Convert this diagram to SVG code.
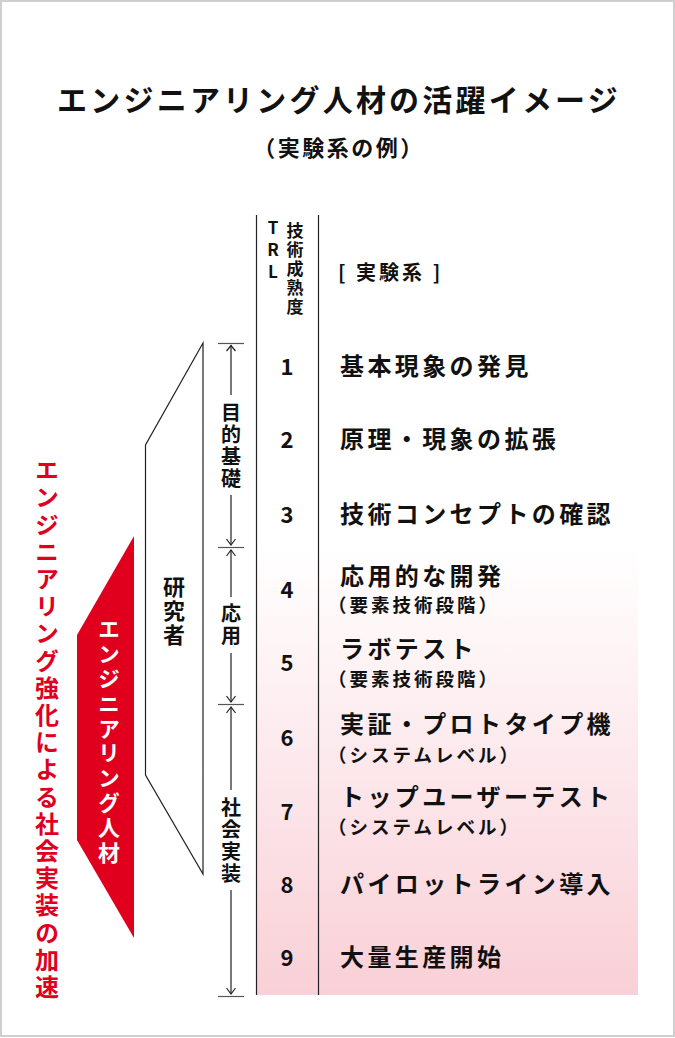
<svg xmlns="http://www.w3.org/2000/svg" width="675" height="1038" viewBox="0 0 675 1038">
<defs>
<linearGradient id="pink" x1="0" y1="0" x2="0" y2="1">
<stop offset="0" stop-color="#ffffff"/>
<stop offset="1" stop-color="#f9d0d7"/>
</linearGradient>
<style>
text{font-family:"Noto Sans CJK JP","Noto Sans",sans-serif;font-weight:700;fill:#111}
.v{writing-mode:vertical-rl;text-anchor:middle}
.num{font-size:22px;text-anchor:middle}
.main{font-size:24px;letter-spacing:3.4px}
.sub{font-size:18.5px;letter-spacing:3px}
.red{fill:#e0001e}
.ln{stroke:#222;stroke-width:1.2;fill:none}
.tk{stroke:#555;stroke-width:1.2;fill:none}
</style>
</defs>
<rect x="1" y="1" width="673" height="1035" fill="#fff" stroke="#cfcfcf" stroke-width="2"/>
<g id="title">
<text x="339" y="111" text-anchor="middle" style="font-size:30px;letter-spacing:3.2px">エンジニアリング人材の活躍イメージ</text>
<text x="339" y="156" text-anchor="middle" style="font-size:22px;letter-spacing:2.5px">（実験系の例）</text>
</g>
<rect id="gradient-band" x="256" y="548" width="382" height="447" fill="url(#pink)"/>
<g id="table-lines">
<line class="ln" x1="256.5" y1="215" x2="256.5" y2="995"/>
<line class="ln" x1="318.5" y1="215" x2="318.5" y2="995"/>
</g>
<g id="header">
<text class="v" x="273" y="252" style="font-size:17px;letter-spacing:5px;text-orientation:upright">TRL</text>
<text class="v" x="295" y="270" style="font-size:17px;letter-spacing:2px">技術成熟度</text>
<text x="338" y="280" style="font-size:20px;letter-spacing:3px">[ 実験系 ]</text>
</g>
<g id="rows">
<text class="num" x="287" y="375">1</text>
<text class="main" x="340" y="375">基本現象の発見</text>
<text class="num" x="287" y="448">2</text>
<text class="main" x="340" y="448">原理・現象の拡張</text>
<text class="num" x="287" y="523">3</text>
<text class="main" x="340" y="523">技術コンセプトの確認</text>
<text class="num" x="287" y="598">4</text>
<text class="main" x="340" y="585">応用的な開発</text>
<text class="sub" x="328" y="612">（要素技術段階）</text>
<text class="num" x="287" y="671">5</text>
<text class="main" x="340" y="658">ラボテスト</text>
<text class="sub" x="328" y="686">（要素技術段階）</text>
<text class="num" x="287" y="746">6</text>
<text class="main" x="340" y="733">実証・プロトタイプ機</text>
<text class="sub" x="328" y="762">（システムレベル）</text>
<text class="num" x="287" y="820">7</text>
<text class="main" x="340" y="806">トップユーザーテスト</text>
<text class="sub" x="328" y="834">（システムレベル）</text>
<text class="num" x="287" y="893">8</text>
<text class="main" x="340" y="893">パイロットライン導入</text>
<text class="num" x="287" y="966">9</text>
<text class="main" x="340" y="966">大量生産開始</text>
</g>
<g id="stage-dimensions">
<line class="tk" x1="218" y1="343.5" x2="244" y2="343.5"/>
<line class="tk" x1="218" y1="547.5" x2="244" y2="547.5"/>
<line class="tk" x1="218" y1="704.5" x2="244" y2="704.5"/>
<line class="tk" x1="218" y1="996.5" x2="244" y2="996.5"/>
<path class="ln" d="M231 345V395M231 495V545M231 550V597M231 653V702M231 707V790M231 890V994"/>
<path class="ln" d="M226.5 351L231 345.5L235.5 351M226.5 539L231 545L235.5 539M226.5 556L231 550L235.5 556M226.5 696L231 702L235.5 696M226.5 713L231 707L235.5 713M226.5 988L231 994L235.5 988"/>
<text class="v" x="231" y="446" style="font-size:20px;letter-spacing:2px">目的基礎</text>
<text class="v" x="231" y="625" style="font-size:20px;letter-spacing:2px">応用</text>
<text class="v" x="231" y="841" style="font-size:20px;letter-spacing:2px">社会実装</text>
</g>
<g id="researcher">
<path class="ln" d="M203 343L145.5 445V775L203 874Z" stroke-linejoin="miter"/>
<text class="v" x="174" y="612" style="font-size:22px;letter-spacing:2px">研究者</text>
</g>
<g id="engineer">
<path d="M134 536L77 635V840L134 938Z" fill="#e0001e"/>
<text class="v" x="109" y="742" style="font-size:22px;letter-spacing:2.8px;fill:#fff">エンジニアリング人材</text>
</g>
<g id="side-label">
<text class="v red" x="47" y="730" style="font-size:24px;letter-spacing:3.2px">エンジニアリング強化による社会実装の加速</text>
</g>
</svg>
